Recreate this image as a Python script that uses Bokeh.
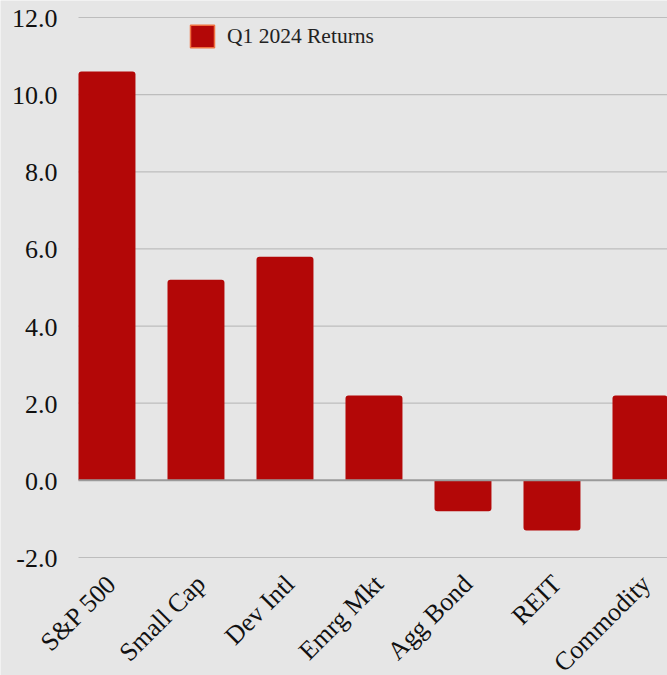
from bokeh.plotting import figure
from bokeh.models import ColumnDataSource, Legend, LegendItem, Range1d, LabelSet
from bokeh.embed import file_html
from bokeh.resources import INLINE
import math

categories = ["S&P 500", "Small Cap", "Dev Intl", "Emrg Mkt", "Agg Bond", "REIT", "Commodity"]
returns = [10.6, 5.2, 5.8, 2.2, -0.8, -1.3, 2.2]
y_ticks = [-2, 0, 2, 4, 6, 8, 10, 12]
series_name = "Q1 2024 Returns"

BG = "#e6e6e6"
BAR = "#b30707"
GRID = "#bdbdbd"
ZERO = "#9a9a9a"
FONT = "Liberation Serif"

W, H = 667, 675
# plot area (where the value grid lives), in pixels of the page
AREA_L, AREA_T, AREA_B = 78, 17, 557
# data extent of that plot area
xa0, xa1 = -0.32, 6.298
y_min, y_max = min(y_ticks), max(y_ticks)

# whole page is the frame, so the rotated labels are never clipped
x_per_px = (xa1 - xa0) / (W - AREA_L)
y_per_px = (y_max - y_min) / (AREA_B - AREA_T)
x_start = xa0 - AREA_L * x_per_px
y_end = y_max + AREA_T * y_per_px
y_start = y_min - (H - AREA_B) * y_per_px

xs = list(range(len(categories)))
pos = {"x": [x for x, v in zip(xs, returns) if v >= 0], "top": [v for v in returns if v >= 0]}
pos["bottom"] = [0] * len(pos["x"])
neg = {"x": [x for x, v in zip(xs, returns) if v < 0], "bottom": [v for v in returns if v < 0]}
neg["top"] = [0] * len(neg["x"])

p = figure(width=W, height=H, output_backend="svg", toolbar_location=None,
           x_range=Range1d(x_start, xa1), y_range=Range1d(y_start, y_end),
           background_fill_color=BG, border_fill_color=BG,
           min_border=0)
p.outline_line_color = None
p.xaxis.visible = False
p.yaxis.visible = False
p.xgrid.visible = False
p.ygrid.visible = False

# value grid lines
grid_y = [t for t in y_ticks if t != 0]
p.segment(x0=[xa0] * len(grid_y), x1=[xa1] * len(grid_y), y0=grid_y, y1=grid_y,
          line_color=GRID, line_width=1.2)

pos_src = ColumnDataSource(pos)
p.vbar(x="x", top="top", bottom="bottom", width=0.64, source=pos_src,
       fill_color=BAR, line_color=None, border_radius=(3, 3, 0, 0))
p.vbar(x="x", top="top", bottom="bottom", width=0.64, source=ColumnDataSource(neg),
       fill_color=BAR, line_color=None, border_radius=(0, 0, 3, 3))

# zero line
p.segment(x0=[xa0], x1=[xa1], y0=[0], y1=[0], line_color=ZERO, line_width=2)

# value tick labels
ylab = ColumnDataSource({"x": [xa0] * len(y_ticks), "y": y_ticks,
                         "label": [f"{t:.1f}" for t in y_ticks]})
p.add_layout(LabelSet(x="x", y="y", text="label", source=ylab,
                      text_align="right", text_baseline="middle", x_offset=-21, y_offset=-1,
                      text_font=FONT, text_font_size="26px", text_color="#111111"))

# category labels, rotated
cat_src = ColumnDataSource({"x": xs, "y": [y_min] * len(xs), "label": categories})
p.add_layout(LabelSet(x="x", y="y", text="label", source=cat_src,
                      angle=math.pi / 4, text_align="right", text_baseline="middle",
                      x_offset=5, y_offset=-22,
                      text_font=FONT, text_font_size="26px", text_color="#111111"))

# legend proxy (hidden renderer, shows the orange-bordered swatch)
leg_r = p.vbar(x="x", top="top", bottom="bottom", width=0.64, source=pos_src,
               fill_color=BAR, line_color="#f07040", line_width=1.5)
leg_r.visible = False
legend = Legend(items=[LegendItem(label=series_name, renderers=[leg_r])],
                location=(187, H - 36 - 14), orientation="horizontal",
                background_fill_alpha=0, border_line_color=None,
                inactive_fill_alpha=0,
                label_text_font=FONT, label_text_font_size="21.5px", label_text_color="#222222",
                glyph_width=30, glyph_height=28, padding=4, margin=0, spacing=0, label_standoff=10,
                click_policy="none")
p.add_layout(legend, "center")

open("out.html", "w").write(file_html(p, INLINE))
